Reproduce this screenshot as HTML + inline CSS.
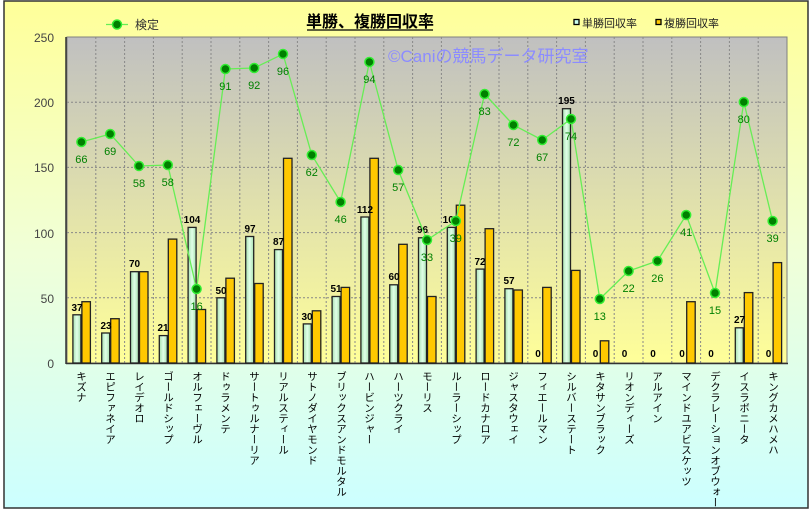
<!DOCTYPE html>
<html><head><meta charset="utf-8"><style>
html,body{margin:0;padding:0;width:812px;height:509px;overflow:hidden;background:#fff}
.lbl{position:absolute;top:371px;writing-mode:vertical-rl;font:10.5px "Liberation Sans","Noto Sans CJK JP",sans-serif;color:#000;line-height:12px;width:12px;height:138px;white-space:nowrap}
</style></head><body>
<svg width="812" height="509" style="position:absolute;left:0;top:0" font-family="Liberation Sans, Noto Sans CJK JP, sans-serif">
<defs>
<linearGradient id="ob" x1="0" y1="0" x2="0" y2="1"><stop offset="0" stop-color="#ffff99"/><stop offset="0.5" stop-color="#f0ffd8"/><stop offset="1" stop-color="#ccffff"/></linearGradient>
<linearGradient id="pb" x1="0" y1="0" x2="0" y2="1"><stop offset="0" stop-color="#c0c0c0"/><stop offset="1" stop-color="#ffff99"/></linearGradient>
<linearGradient id="gb" x1="0" y1="0" x2="1" y2="0"><stop offset="0" stop-color="#a8e0b0"/><stop offset="0.5" stop-color="#e0ffe8"/><stop offset="1" stop-color="#a8e0b0"/></linearGradient>
</defs>
<rect x="4" y="1" width="804" height="507" fill="url(#ob)" stroke="#333" stroke-width="1.5"/>
<rect x="67" y="37" width="720" height="326" fill="url(#pb)" stroke="#808080"/>
<g stroke="#888" stroke-dasharray="2,2" stroke-width="1">
<line x1="67" x2="787" y1="297.8" y2="297.8"/><line x1="67" x2="787" y1="232.6" y2="232.6"/><line x1="67" x2="787" y1="167.4" y2="167.4"/><line x1="67" x2="787" y1="102.2" y2="102.2"/>
<line x1="95.8" x2="95.8" y1="37" y2="363"/><line x1="124.6" x2="124.6" y1="37" y2="363"/><line x1="153.4" x2="153.4" y1="37" y2="363"/><line x1="182.2" x2="182.2" y1="37" y2="363"/><line x1="211" x2="211" y1="37" y2="363"/><line x1="239.8" x2="239.8" y1="37" y2="363"/><line x1="268.6" x2="268.6" y1="37" y2="363"/><line x1="297.4" x2="297.4" y1="37" y2="363"/><line x1="326.2" x2="326.2" y1="37" y2="363"/><line x1="355" x2="355" y1="37" y2="363"/><line x1="383.8" x2="383.8" y1="37" y2="363"/><line x1="412.6" x2="412.6" y1="37" y2="363"/><line x1="441.4" x2="441.4" y1="37" y2="363"/><line x1="470.2" x2="470.2" y1="37" y2="363"/><line x1="499" x2="499" y1="37" y2="363"/><line x1="527.8" x2="527.8" y1="37" y2="363"/><line x1="556.6" x2="556.6" y1="37" y2="363"/><line x1="585.4" x2="585.4" y1="37" y2="363"/><line x1="614.2" x2="614.2" y1="37" y2="363"/><line x1="643" x2="643" y1="37" y2="363"/><line x1="671.8" x2="671.8" y1="37" y2="363"/><line x1="700.6" x2="700.6" y1="37" y2="363"/><line x1="729.4" x2="729.4" y1="37" y2="363"/><line x1="758.2" x2="758.2" y1="37" y2="363"/>
</g>
<text x="388" y="62" font-size="17" fill="#8c8cff">©Caniの競馬データ研究室</text>
<line x1="66" x2="66" y1="37" y2="364" stroke="#333" stroke-width="1.5"/>
<line x1="66" x2="788" y1="363.5" y2="363.5" stroke="#333" stroke-width="1.5"/>
<g font-size="12" fill="#444" text-anchor="end">
<text x="54" y="42">250</text><text x="54" y="107">200</text><text x="54" y="172">150</text><text x="54" y="238">100</text><text x="54" y="303">50</text><text x="54" y="368">0</text>
</g>
<g stroke="#222" stroke-width="1.3">
<g fill="url(#gb)">
<rect x="72.9" y="314.8" width="8" height="48.2"/><rect x="101.7" y="333" width="8" height="30"/><rect x="130.5" y="271.7" width="8" height="91.3"/><rect x="159.3" y="335.6" width="8" height="27.4"/><rect x="188.1" y="227.4" width="8" height="135.6"/><rect x="216.9" y="297.8" width="8" height="65.2"/><rect x="245.7" y="236.5" width="8" height="126.5"/><rect x="274.5" y="249.6" width="8" height="113.4"/><rect x="303.3" y="323.9" width="8" height="39.1"/><rect x="332.1" y="296.5" width="8" height="66.5"/><rect x="360.9" y="217" width="8" height="146"/><rect x="389.7" y="284.8" width="8" height="78.2"/><rect x="418.5" y="237.8" width="8" height="125.2"/><rect x="447.3" y="227.4" width="8" height="135.6"/><rect x="476.1" y="269.1" width="8" height="93.9"/><rect x="504.9" y="288.7" width="8" height="74.3"/><rect x="562.5" y="108.7" width="8" height="254.3"/><rect x="735.3" y="327.8" width="8" height="35.2"/>
</g>
<g fill="#ffc800">
<rect x="81.9" y="301.7" width="8.5" height="61.3"/><rect x="110.7" y="318.7" width="8.5" height="44.3"/><rect x="139.5" y="271.7" width="8.5" height="91.3"/><rect x="168.3" y="239.1" width="8.5" height="123.9"/><rect x="197.1" y="309.5" width="8.5" height="53.5"/><rect x="225.9" y="278.2" width="8.5" height="84.8"/><rect x="254.7" y="283.5" width="8.5" height="79.5"/><rect x="283.5" y="158.3" width="8.5" height="204.7"/><rect x="312.3" y="310.8" width="8.5" height="52.2"/><rect x="341.1" y="287.4" width="8.5" height="75.6"/><rect x="369.9" y="158.3" width="8.5" height="204.7"/><rect x="398.7" y="244.3" width="8.5" height="118.7"/><rect x="427.5" y="296.5" width="8.5" height="66.5"/><rect x="456.3" y="205.2" width="8.5" height="157.8"/><rect x="485.1" y="228.7" width="8.5" height="134.3"/><rect x="513.9" y="290" width="8.5" height="73"/><rect x="542.7" y="287.4" width="8.5" height="75.6"/><rect x="571.5" y="270.4" width="8.5" height="92.6"/><rect x="600.3" y="340.8" width="8.5" height="22.2"/><rect x="686.7" y="301.7" width="8.5" height="61.3"/><rect x="744.3" y="292.6" width="8.5" height="70.4"/><rect x="773.1" y="262.6" width="8.5" height="100.4"/>
</g>
</g>
<g font-size="10" font-weight="bold" fill="#000" text-anchor="middle">
<text x="77" y="311">37</text><text x="106" y="329">23</text><text x="134.5" y="267">70</text><text x="163" y="331">21</text><text x="192" y="223">104</text><text x="221" y="294">50</text><text x="250" y="232">97</text><text x="278.5" y="245">87</text><text x="307" y="320">30</text><text x="336" y="292">51</text><text x="365" y="213">112</text><text x="394" y="280">60</text><text x="422.5" y="233">96</text><text x="451" y="223">104</text><text x="480" y="265">72</text><text x="509" y="284">57</text><text x="538" y="357">0</text><text x="566.5" y="104">195</text><text x="595.5" y="357">0</text><text x="624.5" y="357">0</text><text x="653" y="357">0</text><text x="682" y="357">0</text><text x="711" y="357">0</text><text x="739.5" y="323">27</text><text x="768.5" y="357">0</text>
</g>
<polyline fill="none" stroke="#66ee55" stroke-width="1.3" points="81.4,142 110.2,134 139,166 167.8,165 196.6,289 225.4,69 254.2,68 283,54 311.8,155 340.6,202 369.4,62 398.2,170 427,240 455.8,221 484.6,94 513.4,125 542.2,140 571,119 599.8,299 628.6,271 657.4,261 686.2,215 715,293 743.8,102 772.6,221"/>
<g fill="#008000" stroke="#33ee33" stroke-width="1.5">
<circle cx="81.4" cy="142" r="4.5"/><circle cx="110.2" cy="134" r="4.5"/><circle cx="139" cy="166" r="4.5"/><circle cx="167.8" cy="165" r="4.5"/><circle cx="196.6" cy="289" r="4.5"/><circle cx="225.4" cy="69" r="4.5"/><circle cx="254.2" cy="68" r="4.5"/><circle cx="283" cy="54" r="4.5"/><circle cx="311.8" cy="155" r="4.5"/><circle cx="340.6" cy="202" r="4.5"/><circle cx="369.4" cy="62" r="4.5"/><circle cx="398.2" cy="170" r="4.5"/><circle cx="427" cy="240" r="4.5"/><circle cx="455.8" cy="221" r="4.5"/><circle cx="484.6" cy="94" r="4.5"/><circle cx="513.4" cy="125" r="4.5"/><circle cx="542.2" cy="140" r="4.5"/><circle cx="571" cy="119" r="4.5"/><circle cx="599.8" cy="299" r="4.5"/><circle cx="628.6" cy="271" r="4.5"/><circle cx="657.4" cy="261" r="4.5"/><circle cx="686.2" cy="215" r="4.5"/><circle cx="715" cy="293" r="4.5"/><circle cx="743.8" cy="102" r="4.5"/><circle cx="772.6" cy="221" r="4.5"/>
</g>
<g font-size="11" fill="#008000" text-anchor="middle">
<text x="81.4" y="163">66</text><text x="110.2" y="155">69</text><text x="139" y="187">58</text><text x="167.8" y="186">58</text><text x="196.6" y="310">16</text><text x="225.4" y="90">91</text><text x="254.2" y="89">92</text><text x="283" y="75">96</text><text x="311.8" y="176">62</text><text x="340.6" y="223">46</text><text x="369.4" y="83">94</text><text x="398.2" y="191">57</text><text x="427" y="261">33</text><text x="455.8" y="242">39</text><text x="484.6" y="115">83</text><text x="513.4" y="146">72</text><text x="542.2" y="161">67</text><text x="571" y="140">74</text><text x="599.8" y="320">13</text><text x="628.6" y="292">22</text><text x="657.4" y="282">26</text><text x="686.2" y="236">41</text><text x="715" y="314">15</text><text x="743.8" y="123">80</text><text x="772.6" y="242">39</text>
</g>
<text x="370" y="27" font-size="16" font-weight="bold" text-anchor="middle" fill="#000">単勝、複勝回収率</text>
<line x1="307" x2="433" y1="30" y2="30" stroke="#000" stroke-width="1.2"/>
<line x1="106" x2="128" y1="24.5" y2="24.5" stroke="#66ee55" stroke-width="1.3"/>
<circle cx="117" cy="24.5" r="4.5" fill="#008000" stroke="#33ee33" stroke-width="1.5"/>
<text x="135" y="29" font-size="12" fill="#333">検定</text>
<rect x="574" y="19.5" width="5" height="5" fill="#ccffee" stroke="#000" stroke-width="1.3"/>
<text x="582" y="27" font-size="11" fill="#222">単勝回収率</text>
<rect x="656" y="19.5" width="5" height="5" fill="#ffc800" stroke="#000" stroke-width="1.3"/>
<text x="664" y="27" font-size="11" fill="#222">複勝回収率</text>
</svg>
<div class="lbl" style="left:75px">キズナ</div>
<div class="lbl" style="left:104px">エピファネイア</div>
<div class="lbl" style="left:133px">レイデオロ</div>
<div class="lbl" style="left:162px">ゴールドシップ</div>
<div class="lbl" style="left:191px">オルフェーヴル</div>
<div class="lbl" style="left:219px">ドゥラメンテ</div>
<div class="lbl" style="left:248px">サートゥルナーリア</div>
<div class="lbl" style="left:277px">リアルスティール</div>
<div class="lbl" style="left:306px">サトノダイヤモンド</div>
<div class="lbl" style="left:335px">ブリックスアンドモルタル</div>
<div class="lbl" style="left:363px">ハービンジャー</div>
<div class="lbl" style="left:392px">ハーツクライ</div>
<div class="lbl" style="left:421px">モーリス</div>
<div class="lbl" style="left:450px">ルーラーシップ</div>
<div class="lbl" style="left:479px">ロードカナロア</div>
<div class="lbl" style="left:507px">ジャスタウェイ</div>
<div class="lbl" style="left:536px">フィエールマン</div>
<div class="lbl" style="left:565px">シルバーステート</div>
<div class="lbl" style="left:594px">キタサンブラック</div>
<div class="lbl" style="left:623px">リオンディーズ</div>
<div class="lbl" style="left:651px">アルアイン</div>
<div class="lbl" style="left:680px">マインドユアビスケッツ</div>
<div class="lbl" style="left:709px">デクラレーションオブウォー</div>
<div class="lbl" style="left:738px">イスラボニータ</div>
<div class="lbl" style="left:767px">キングカメハメハ</div>
</body></html>
